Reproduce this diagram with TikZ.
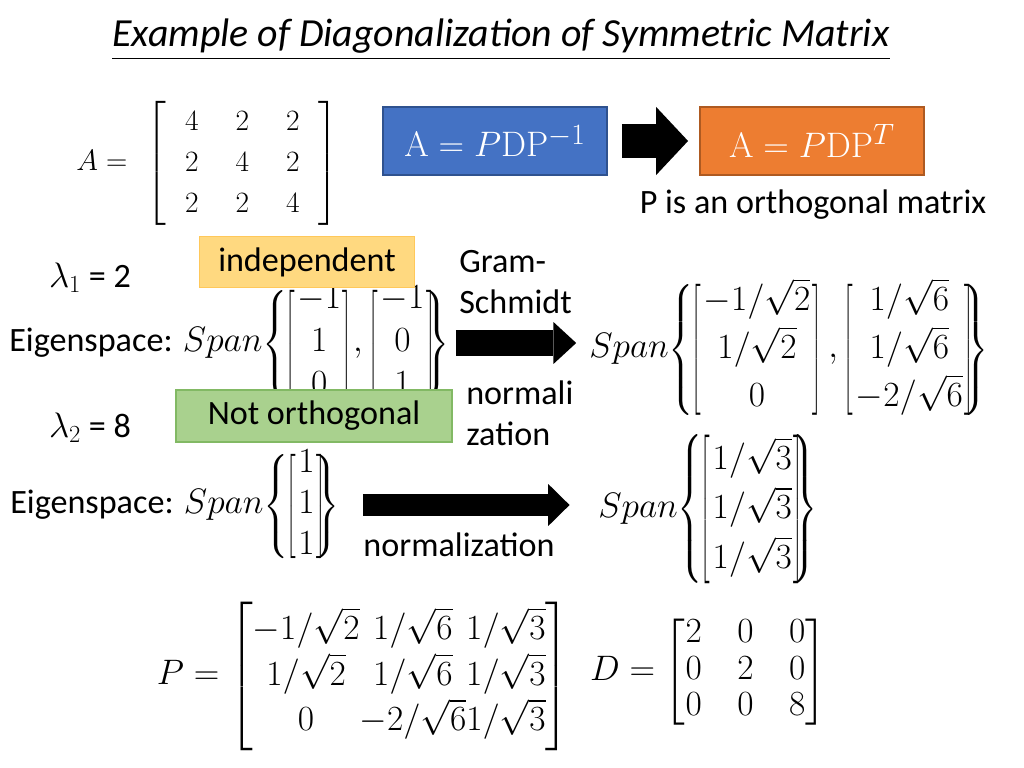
\documentclass[tikz,border=0pt]{standalone}
\usepackage[no-math]{fontspec}
\setmainfont{Carlito}
\usepackage{amsmath}
\usepackage{graphicx}
\usetikzlibrary{arrows.meta}
\definecolor{slideblue}{RGB}{68,114,196}
\definecolor{slideblueline}{RGB}{47,82,143}
\definecolor{slideorange}{RGB}{237,125,49}
\definecolor{slideorangeline}{RGB}{174,90,33}
\definecolor{noteyellow}{RGB}{255,217,128}
\definecolor{noteyellowline}{RGB}{255,200,90}
\definecolor{notegreen}{RGB}{169,209,142}
\definecolor{notegreenline}{RGB}{130,185,100}
% narrow delimiters, brackets and braces of the spans
\newcommand\delimv{1}
\newcommand\slimdelim[3]{\mbox{\scalebox{#1}[\delimv]{$\left#2\vphantom{#3}\right.$}}}
\newcommand\colvec[1]{\slimdelim{0.4}[{\begin{matrix}#1\end{matrix}}\mkern1mu\begin{matrix}#1\end{matrix}\mkern1mu\slimdelim{0.4}]{\begin{matrix}#1\end{matrix}}}
\newcommand\spanof[1]{Span\slimdelim{0.8}\{{#1}\mkern-2mu#1\mkern-6mu\slimdelim{0.8}\}{#1}}

\begin{document}
\begin{tikzpicture}[x=0.703125pt, y=-0.703125pt,
  txt/.style={inner sep=0pt, font=\fontsize{24}{29}\selectfont},
  formbox/.style={draw=#1line, fill=#1, line width=0.8pt, minimum width=157.5pt,
    minimum height=47.8pt, text=white, font=\fontsize{28}{34}\selectfont},
  notebox/.style={draw=#1line, fill=#1, line width=0.8pt, font=\fontsize{24}{29}\selectfont},
  fatarrow/.style n args={3}{line width=#1, -{Triangle[length=#2, width=#3, line width=0pt]}}]
\useasboundingbox (0,0) rectangle (1024,768);

% title
\node[font=\fontsize{28}{34}\selectfont\itshape] (title) at (501,40) {\underline{Example of Diagonalization of Symmetric Matrix}};

% the matrix A and the two forms
\node[txt] (Amat) at (207,163) {\fontsize{22}{29}\selectfont\setlength{\arraycolsep}{13pt}%
  $A=\hspace{8pt}\left[\begin{array}{ccc}4&2&2\\2&4&2\\2&2&4\end{array}\right]$};
\node[formbox=slideblue] (pdpinv) at (495,141) {$\mathrm{A}=P\mathrm{DP}^{-1}$};
\node[formbox=slideorange] (pdpT) at (812,141) {$\mathrm{A}=P\mathrm{DP}^{T}$};
\draw[fatarrow={24pt}{22.5pt}{48pt}] ([xshift=10]pdpinv.east) -- ([xshift=-8]pdpT.west);
\node[txt] (orth) at (813,205) {P is an orthogonal matrix};

% eigenvalue 2
\node[txt] (lam1) at (90,278) {$\lambda_1$ = 2};
\node[txt, anchor=west] (eig1) at (9,343) {\renewcommand{\arraystretch}{1.05}\renewcommand{\delimv}{0.85}%
  Eigenspace: $\spanof{\colvec{-1\\1\\0},\colvec{-1\\0\\1}}$};
\node[notebox=noteyellow, minimum width=151pt, minimum height=36pt] (indep) at (307,262) {independent};
\node[notebox=notegreen, minimum width=194pt, minimum height=36.6pt] (notorth) at (314,416) {Not orthogonal};
\node[txt, align=left, anchor=west] (gs) at (459,282) {Gram-\\Schmidt};
\node[txt, align=left, anchor=west] (norm1) at (466,413) {normali\\zation};
\node[txt, anchor=west] (onb1) at (589,349) {\renewcommand{\arraystretch}{1.16}\renewcommand{\delimv}{0.88}%
  $\spanof{\colvec{-1/\sqrt{2}\\1/\sqrt{2}\\0}\,,\colvec{1/\sqrt{6}\\1/\sqrt{6}\\-2/\sqrt{6}}}$};
\draw[fatarrow={17.6pt}{16pt}{29.5pt}] ([xshift=3]eig1.east) -- ([xshift=-9]onb1.west |- eig1.east);

% eigenvalue 8
\node[txt] (lam2) at (90,428) {$\lambda_2$ = 8};
\node[txt, anchor=west] (eig2) at (10,505) {\renewcommand{\arraystretch}{1.0}\renewcommand{\delimv}{0.82}%
  Eigenspace: $\spanof{\colvec{1\\1\\1}}$};
\node[txt, anchor=west] (onb2) at (598,509) {\renewcommand{\arraystretch}{1.2}%
  $\spanof{\colvec{1/\sqrt{3}\\1/\sqrt{3}\\1/\sqrt{3}}}$};
\draw[fatarrow={15.5pt}{15pt}{29.5pt}] ([xshift=15]eig2.east) -- ([xshift=-20]onb2.west |- eig2.east);
\node[txt] (norm2) at (459,545) {normalization};

% result
\node[txt] (Pmat) at (363,676) {\renewcommand{\arraystretch}{1.1}\setlength{\arraycolsep}{0pt}%
  $P=\begin{bmatrix}-1/\sqrt{2}&1/\sqrt{6}&1/\sqrt{3}\\1/\sqrt{2}&1/\sqrt{6}&1/\sqrt{3}\\0&-2/\sqrt{6}&1/\sqrt{3}\end{bmatrix}$};
\node[txt] (Dmat) at (708,672) {\renewcommand{\arraystretch}{0.88}\setlength{\arraycolsep}{12.5pt}%
  $D=\begin{bmatrix}2&0&0\\0&2&0\\0&0&8\end{bmatrix}$};
\end{tikzpicture}
\end{document}
